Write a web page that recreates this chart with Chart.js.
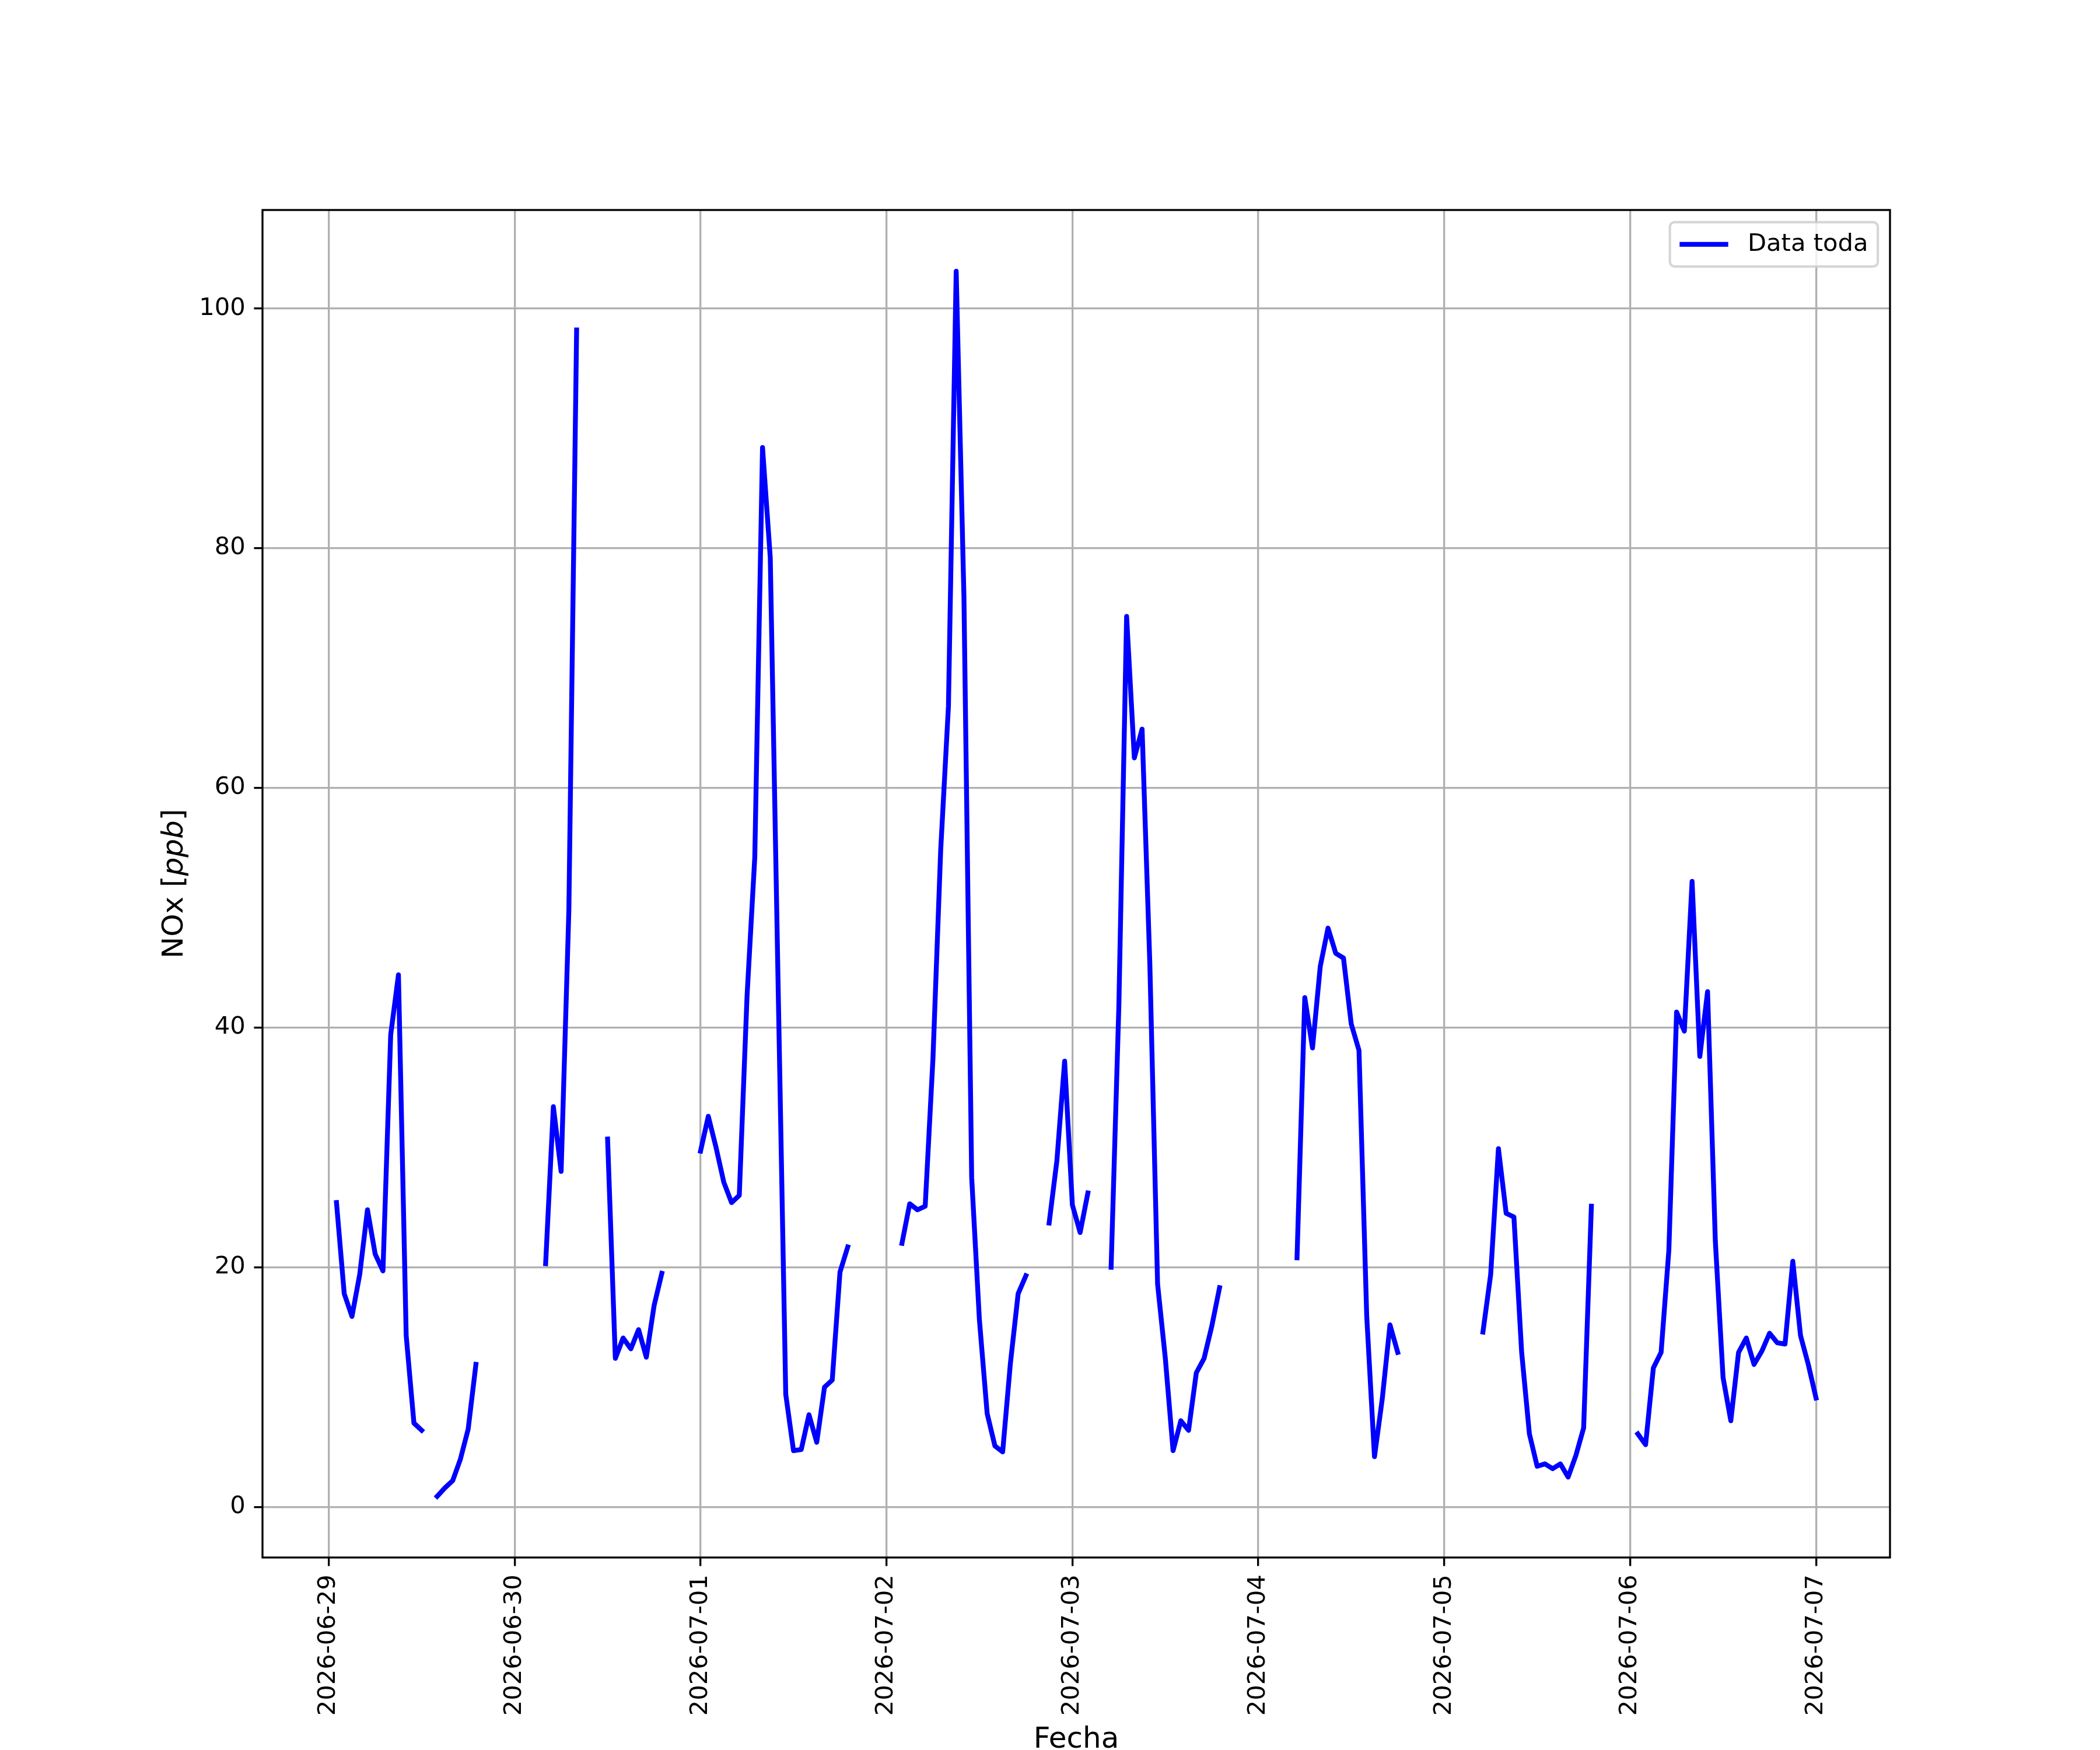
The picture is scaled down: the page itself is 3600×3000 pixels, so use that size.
<!DOCTYPE html>
<html>
<head>
<meta charset="utf-8">
<script src="https://cdn.jsdelivr.net/npm/chart.js@4.4.1/dist/chart.umd.min.js"></script>
<style>
  html, body { margin: 0; padding: 0; background: #fff; }
  canvas { display: block; }
</style>
</head>
<body>
<canvas id="grafico" width="3600" height="3000"></canvas>
<script>
// Etiquetas del eje x: una marca por día a las 00:00
const etiquetasDias = ['2026-06-29', '2026-06-30', '2026-07-01', '2026-07-02', '2026-07-03',
                       '2026-07-04', '2026-07-05', '2026-07-06', '2026-07-07'];
const marcasY = [0, 20, 40, 60, 80, 100];

// NOx horario [ppb], null = sin dato. El primer dato es 2026-06-29 01:00
const primeraHora = 1;
const nox0629 = [25.4, 17.8, 15.9, 19.4, 24.8, 21.1, 19.7, 39.4, 44.4, 14.3, 7.0, 6.4,
                 null, 0.9, 1.6, 2.2, 4.0, 6.5, 11.9, null, null, null, null];
const nox0630 = [null, null, null, null, 20.3, 33.4, 28.0, 49.8, 98.2, null, null, null,
                 30.7, 12.4, 14.1, 13.2, 14.8, 12.5, 16.8, 19.5, null, null, null, null];
const nox0701 = [29.7, 32.6, 30.0, 27.1, 25.4, 26.0, 42.6, 54.2, 88.4, 79.2, 44.0, 9.4,
                 4.7, 4.8, 7.7, 5.4, 10.0, 10.6, 19.6, 21.7, null, null, null, null];
const nox0702 = [null, null, 22.0, 25.3, 24.8, 25.1, 37.4, 54.8, 66.8, 103.1, 76.0, 27.5,
                 15.6, 7.8, 5.1, 4.6, 12.0, 17.8, 19.3, null, null, 23.7, 28.9, 37.2];
const nox0703 = [25.2, 22.9, 26.2, null, null, 20.0, 41.8, 74.3, 62.5, 64.9, 45.3, 18.6,
                 12.4, 4.7, 7.2, 6.4, 11.2, 12.4, 15.1, 18.3, null, null, null, null];
const nox0704 = [null, null, null, null, null, 20.8, 42.5, 38.3, 45.1, 48.3, 46.2, 45.8,
                 40.3, 38.1, 15.9, 4.2, 9.0, 15.2, 12.9, null, null, null, null, null];
const nox0705 = [null, null, null, null, null, 14.6, 19.4, 29.9, 24.5, 24.2, 12.9, 6.1,
                 3.4, 3.6, 3.2, 3.6, 2.5, 4.3, 6.6, 25.1, null, null, null, null];
const nox0706 = [null, 6.1, 5.2, 11.6, 12.9, 21.4, 41.3, 39.7, 52.2, 37.6, 43.0, 22.2,
                 10.8, 7.2, 12.9, 14.1, 11.9, 13.0, 14.5, 13.7, 13.6, 20.5, 14.3, 11.9];
const nox0707 = [9.1];

const nox = [].concat(nox0629, nox0630, nox0701, nox0702, nox0703, nox0704, nox0705, nox0706, nox0707);
const puntos = nox.map((v, i) => ({ x: primeraHora + i, y: v }));

// Márgenes del 5% como en matplotlib
const validos = nox.filter(v => v !== null);
const xMin = primeraHora, xMax = primeraHora + nox.length - 1;
const yMin = Math.min(...validos), yMax = Math.max(...validos);
const mx = (xMax - xMin) * 0.05, my = (yMax - yMin) * 0.05;

const FUENTE = 'DejaVu Sans';
const TAM = 41.67;      // ticks y leyenda
const TAM_EJE = 50;     // títulos de ejes
const LW = 3.33;
Chart.defaults.font.family = FUENTE;
Chart.defaults.font.size = TAM;
Chart.defaults.color = '#000';

// Marco de los ejes, etiqueta y con "ppb" en cursiva y leyenda con recuadro
const extras = {
    id: 'extras',
    afterDraw(chart) {
        const { ctx, chartArea: a } = chart;
        ctx.save();
        // Marco
        ctx.strokeStyle = '#000';
        ctx.lineWidth = LW;
        ctx.strokeRect(a.left, a.top, a.right - a.left, a.bottom - a.top);

        // Etiqueta del eje y
        const normalEje = TAM_EJE + 'px "' + FUENTE + '"';
        const italicaEje = 'italic ' + TAM_EJE + 'px "' + FUENTE + '"';
        const partes = [['NOx [', normalEje], ['ppb', italicaEje], [']', normalEje]];
        let total = 0;
        partes.forEach(p => { ctx.font = p[1]; total += ctx.measureText(p[0]).width; });
        ctx.save();
        ctx.translate(a.left - 137, (a.top + a.bottom) / 2);
        ctx.rotate(-Math.PI / 2);
        ctx.textBaseline = 'alphabetic';
        ctx.fillStyle = '#000';
        let px = -total / 2;
        partes.forEach(p => {
            ctx.font = p[1];
            ctx.fillText(p[0], px, 0);
            px += ctx.measureText(p[0]).width;
        });
        ctx.restore();

        // Leyenda
        const ds = chart.data.datasets[0];
        ctx.font = TAM + 'px "' + FUENTE + '"';
        const anchoTexto = ctx.measureText(ds.label).width;
        const pad = 0.4 * TAM, largo = 2.0 * TAM, sep = 0.8 * TAM;
        const derecha = a.right - 0.5 * TAM;
        const arriba = a.top + 0.5 * TAM;
        const ancho = pad * 2 + largo + sep + anchoTexto;
        const alto = 76;
        const izq = derecha - ancho;
        ctx.beginPath();
        ctx.roundRect(izq, arriba, ancho, alto, 8);
        ctx.fillStyle = 'rgba(255,255,255,0.8)';
        ctx.fill();
        ctx.strokeStyle = 'rgba(204,204,204,0.8)';
        ctx.lineWidth = 4.17;
        ctx.stroke();
        const yc = arriba + alto / 2;
        ctx.beginPath();
        ctx.moveTo(izq + pad, yc);
        ctx.lineTo(izq + pad + largo, yc);
        ctx.strokeStyle = ds.borderColor;
        ctx.lineWidth = ds.borderWidth;
        ctx.lineCap = 'butt';
        ctx.stroke();
        ctx.fillStyle = '#000';
        ctx.textBaseline = 'middle';
        ctx.fillText(ds.label, izq + pad + largo + sep, yc);
        ctx.restore();
    }
};

new Chart(document.getElementById('grafico'), {
    type: 'line',
    data: {
        datasets: [{
            label: 'Data toda',
            data: puntos,
            borderColor: '#0000ff',
            backgroundColor: '#0000ff',
            borderWidth: 8.33,
            pointRadius: 0,
            pointHoverRadius: 0,
            tension: 0,
            spanGaps: false,
            fill: false,
            borderCapStyle: 'square',
            borderJoinStyle: 'round'
        }]
    },
    options: {
        responsive: false,
        animation: false,
        devicePixelRatio: 1,
        events: [],
        layout: { padding: { left: 0, top: 360, right: 360, bottom: 0 } },
        plugins: {
            legend: { display: false },
            tooltip: { enabled: false }
        },
        scales: {
            x: {
                type: 'linear',
                min: xMin - mx,
                max: xMax + mx,
                afterBuildTicks: scale => {
                    scale.ticks = etiquetasDias.map((d, i) => ({ value: i * 24 }));
                },
                afterFit: scale => { scale.height = 330; },
                ticks: {
                    autoSkip: false,
                    minRotation: 90,
                    maxRotation: 90,
                    padding: 14.6,
                    color: '#000',
                    callback: (value, index) => etiquetasDias[index]
                },
                grid: {
                    color: '#b0b0b0',
                    lineWidth: LW,
                    drawTicks: true,
                    tickLength: 14.6,
                    tickColor: '#000',
                    tickWidth: LW
                },
                border: { display: false },
                title: {
                    display: true,
                    text: 'Fecha',
                    color: '#000',
                    font: { size: TAM_EJE },
                    padding: { top: 0, bottom: -13 }
                }
            },
            y: {
                type: 'linear',
                min: yMin - my,
                max: yMax + my,
                afterBuildTicks: scale => {
                    scale.ticks = marcasY.map(v => ({ value: v }));
                },
                afterFit: scale => { scale.width = 450; },
                ticks: {
                    padding: 14.6,
                    color: '#000',
                    callback: value => String(value)
                },
                grid: {
                    color: '#b0b0b0',
                    lineWidth: LW,
                    drawTicks: true,
                    tickLength: 14.6,
                    tickColor: '#000',
                    tickWidth: LW
                },
                border: { display: false },
                title: { display: false }
            }
        }
    },
    plugins: [extras]
});
</script>
</body>
</html>
